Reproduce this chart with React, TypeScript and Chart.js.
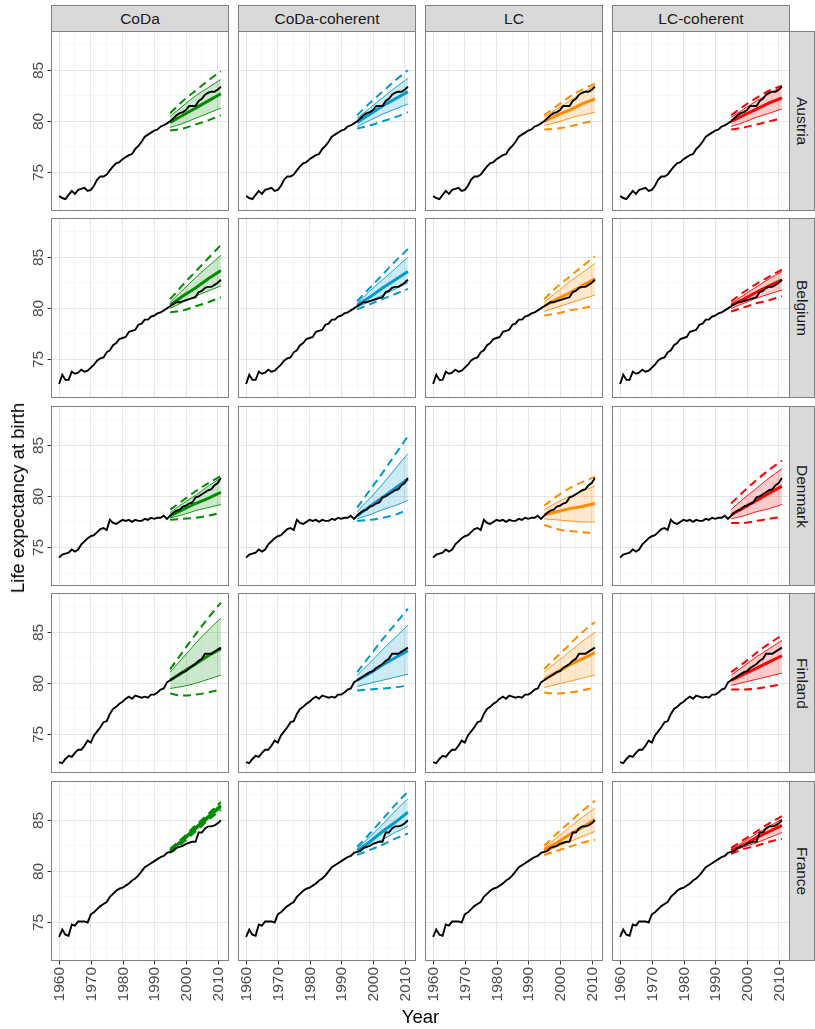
import { useEffect, useRef } from 'react'
import { Chart, registerables, type Plugin } from 'chart.js'

Chart.register(...registerables)

// facets
const countries = ['Austria', 'Belgium', 'Denmark', 'Finland', 'France']
const methods = ['CoDa', 'CoDa-coherent', 'LC', 'LC-coherent']
const methodColors = ['#008B00', '#009ACD', '#FF8C00', '#FF0000']
const methodFills = ['rgba(0,139,0,0.2)', 'rgba(0,154,205,0.2)', 'rgba(255,140,0,0.2)', 'rgba(255,0,0,0.2)']

// axes
const xLabels = [1960, 1970, 1980, 1990, 2000, 2010]
const xGrid = [1960, 1965, 1970, 1975, 1980, 1985, 1990, 1995, 2000, 2005, 2010]
const yLabels = [75, 80, 85]
const yGrid = [72.5, 75, 77.5, 80, 82.5, 85, 87.5]

// observed female life expectancy, 1960..2011
const firstYear = 1960
const austria = [72.7, 72.5, 72.4, 72.8, 73.2, 72.9, 73.3, 73.4, 73.5, 73.2,
  73.3, 73.7, 74.3, 74.6, 74.6, 74.8, 75.2, 75.6, 75.9, 76.0,
  76.3, 76.5, 76.7, 76.8, 77.3, 77.6, 78.0, 78.5, 78.7, 78.9,
  79.1, 79.2, 79.5, 79.6, 79.8, 80.0, 80.3, 80.6, 80.8, 80.9,
  81.1, 81.5, 81.5, 81.5, 82.0, 82.2, 82.6, 82.8, 82.9, 82.9,
  83.1, 83.4]
const belgium = [72.6, 73.5, 73.0, 73.0, 73.8, 73.6, 73.7, 74.0, 73.8, 73.9,
  74.2, 74.5, 74.9, 75.1, 75.2, 75.7, 75.9, 76.4, 76.6, 77.0,
  77.1, 77.2, 77.7, 77.8, 77.9, 78.4, 78.5, 78.9, 78.9, 79.2,
  79.3, 79.5, 79.6, 79.8, 80.0, 80.2, 80.4, 80.6, 80.6, 80.7,
  80.8, 80.9, 81.0, 81.1, 81.6, 81.7, 82.0, 82.1, 82.1, 82.3,
  82.5, 82.8]
const denmark = [74.0, 74.3, 74.4, 74.5, 74.8, 74.6, 74.8, 75.3, 75.6, 75.9,
  76.1, 76.2, 76.5, 76.8, 76.9, 76.7, 77.7, 77.4, 77.3, 77.5,
  77.7, 77.6, 77.7, 77.5, 77.7, 77.6, 77.6, 77.8, 77.7, 77.9,
  77.8, 77.9, 77.9, 78.1, 77.8, 78.1, 78.4, 78.6, 78.7, 79.0,
  79.1, 79.3, 79.4, 79.9, 80.0, 80.2, 80.4, 80.6, 80.7, 81.1,
  81.3, 81.8]
const finland = [72.3, 72.2, 72.6, 72.9, 72.8, 73.2, 73.5, 73.5, 73.9, 74.4,
  74.2, 74.9, 75.3, 75.7, 76.2, 76.3, 77.0, 77.5, 77.7, 78.0,
  78.2, 78.5, 78.7, 78.5, 78.8, 78.7, 78.6, 78.7, 78.6, 78.9,
  78.9, 79.1, 79.4, 79.5, 80.1, 80.3, 80.5, 80.7, 80.9, 81.1,
  81.2, 81.5, 81.7, 81.9, 82.2, 82.4, 82.9, 82.9, 82.9, 83.1,
  83.3, 83.5]
const france = [73.6, 74.3, 73.8, 73.7, 74.8, 74.7, 75.1, 75.1, 75.1, 75.0,
  75.8, 76.0, 76.3, 76.6, 76.8, 77.0, 77.5, 77.8, 78.1, 78.3,
  78.4, 78.6, 78.8, 79.1, 79.3, 79.6, 80.0, 80.4, 80.6, 80.8,
  81.0, 81.2, 81.4, 81.5, 81.8, 81.9, 82.0, 82.3, 82.4, 82.5,
  82.7, 82.8, 82.9, 82.9, 83.8, 83.8, 84.2, 84.4, 84.4, 84.5,
  84.7, 85.0]
const observed = [austria, belgium, denmark, finland, france]

// forecasts (rows: Austria, Belgium, Denmark, Finland, France)
const fcYears = [1995, 1999, 2003, 2007, 2011]

const codaMean = [[79.9, 80.6, 81.3, 82.0, 82.7], [80.3, 81.2, 82.0, 82.9, 83.7], [78.1, 78.7, 79.3, 79.8, 80.4], [80.3, 81.1, 81.9, 82.7, 83.4], [82.0, 83.1, 84.2, 85.3, 86.4]]
const codaLo80 = [[79.4, 79.8, 80.3, 80.8, 81.3], [80.0, 80.6, 81.2, 81.7, 82.2], [77.9, 78.2, 78.6, 78.9, 79.2], [79.5, 79.7, 80.0, 80.4, 80.8], [81.9, 82.9, 84.0, 85.1, 86.2]]
const codaHi80 = [[80.5, 81.5, 82.5, 83.3, 84.1], [80.6, 81.8, 83.0, 84.1, 85.2], [78.4, 79.3, 80.1, 81.0, 81.8], [81.1, 82.5, 83.9, 85.2, 86.4], [82.1, 83.2, 84.4, 85.5, 86.6]]
const codaLo95 = [[79.1, 79.3, 79.7, 80.1, 80.6], [79.6, 79.8, 80.2, 80.6, 81.1], [77.7, 77.8, 77.9, 78.1, 78.4], [79.0, 78.8, 78.9, 79.1, 79.4], [81.8, 82.8, 83.9, 85.0, 86.0]]
const codaHi95 = [[80.8, 82.0, 83.0, 84.0, 84.9], [80.9, 82.3, 83.6, 84.9, 86.2], [78.7, 79.6, 80.5, 81.3, 82.0], [81.4, 83.1, 84.8, 86.4, 87.9], [82.2, 83.3, 84.5, 85.6, 86.8]]

const codaCohMean = [[79.9, 80.7, 81.5, 82.2, 82.9], [80.3, 81.1, 82.0, 82.8, 83.6], [78.1, 79.0, 79.9, 80.8, 81.7], [80.3, 81.0, 81.8, 82.5, 83.2], [82.0, 82.9, 83.9, 84.8, 85.8]]
const codaCohLo80 = [[79.5, 80.1, 80.7, 81.2, 81.7], [80.1, 80.7, 81.3, 81.9, 82.5], [77.8, 78.2, 78.7, 79.1, 79.6], [79.7, 80.0, 80.3, 80.6, 80.9], [81.8, 82.5, 83.1, 83.8, 84.4]]
const codaCohHi80 = [[80.3, 81.3, 82.3, 83.3, 84.2], [80.5, 81.7, 82.8, 83.9, 85.0], [78.5, 79.8, 81.2, 82.7, 84.2], [80.8, 82.0, 83.3, 84.5, 85.7], [82.2, 83.4, 84.6, 85.9, 87.1]]
const codaCohLo95 = [[79.3, 79.6, 80.0, 80.4, 80.9], [79.9, 80.4, 80.9, 81.4, 81.9], [77.6, 77.7, 77.9, 78.2, 78.7], [79.3, 79.4, 79.5, 79.6, 79.8], [81.6, 82.1, 82.6, 83.2, 83.7]]
const codaCohHi95 = [[80.6, 81.8, 82.9, 84.0, 85.0], [80.7, 82.0, 83.3, 84.6, 85.8], [78.9, 80.6, 82.3, 84.1, 85.9], [81.1, 82.7, 84.3, 85.8, 87.3], [82.4, 83.7, 85.1, 86.5, 87.8]]

const lcMean = [[80.0, 80.6, 81.1, 81.7, 82.2], [80.2, 80.9, 81.5, 82.2, 82.9], [78.2, 78.5, 78.8, 79.0, 79.3], [80.4, 81.1, 81.8, 82.4, 83.0], [82.1, 82.8, 83.6, 84.3, 85.1]]
const lcLo80 = [[79.6, 79.9, 80.3, 80.6, 80.9], [79.7, 80.1, 80.5, 80.9, 81.3], [77.8, 77.7, 77.6, 77.5, 77.5], [79.6, 79.9, 80.2, 80.5, 80.8], [81.8, 82.4, 82.9, 83.4, 83.9]]
const lcHi80 = [[80.4, 81.2, 82.0, 82.8, 83.5], [80.6, 81.6, 82.6, 83.5, 84.4], [78.7, 79.4, 80.0, 80.5, 81.0], [81.1, 82.1, 83.1, 84.1, 85.0], [82.3, 83.3, 84.3, 85.3, 86.2]]
const lcLo95 = [[79.2, 79.3, 79.5, 79.8, 80.1], [79.3, 79.5, 79.8, 80.0, 80.3], [77.2, 76.8, 76.6, 76.5, 76.4], [79.1, 79.0, 79.1, 79.3, 79.6], [81.6, 82.0, 82.4, 82.8, 83.1]]
const lcHi95 = [[80.6, 81.5, 82.4, 83.1, 83.7], [80.9, 82.1, 83.1, 84.1, 85.1], [79.1, 80.0, 80.8, 81.4, 81.9], [81.4, 82.6, 83.8, 85.0, 86.0], [82.5, 83.7, 84.8, 85.9, 86.9]]

const lcCohMean = [[80.0, 80.6, 81.2, 81.8, 82.3], [80.3, 80.9, 81.6, 82.2, 82.8], [78.2, 78.9, 79.6, 80.3, 81.0], [80.3, 80.9, 81.5, 82.1, 82.7], [82.0, 82.6, 83.3, 83.9, 84.5]]
const lcCohLo80 = [[79.5, 79.9, 80.4, 80.8, 81.2], [80.0, 80.5, 81.0, 81.4, 81.8], [77.8, 78.1, 78.5, 78.8, 79.2], [79.8, 80.1, 80.4, 80.7, 81.0], [81.9, 82.4, 82.8, 83.3, 83.8]]
const lcCohHi80 = [[80.4, 81.2, 82.0, 82.7, 83.4], [80.5, 81.3, 82.1, 82.9, 83.6], [78.7, 79.8, 80.8, 81.8, 82.7], [80.8, 81.7, 82.6, 83.4, 84.2], [82.2, 82.9, 83.7, 84.4, 85.1]]
const lcCohLo95 = [[79.2, 79.4, 79.7, 80.0, 80.3], [79.7, 80.1, 80.5, 80.8, 81.2], [77.4, 77.4, 77.6, 77.8, 78.0], [79.4, 79.4, 79.5, 79.7, 79.9], [81.7, 82.2, 82.5, 82.9, 83.2]]
const lcCohHi95 = [[80.6, 81.5, 82.3, 83.0, 83.5], [80.7, 81.6, 82.4, 83.1, 83.8], [79.3, 80.5, 81.6, 82.6, 83.5], [81.1, 82.0, 83.0, 83.9, 84.7], [82.3, 83.1, 83.9, 84.7, 85.4]]

const forecasts = [
  { mean: codaMean, lo80: codaLo80, hi80: codaHi80, lo95: codaLo95, hi95: codaHi95 },
  { mean: codaCohMean, lo80: codaCohLo80, hi80: codaCohHi80, lo95: codaCohLo95, hi95: codaCohHi95 },
  { mean: lcMean, lo80: lcLo80, hi80: lcHi80, lo95: lcLo95, hi95: lcHi95 },
  { mean: lcCohMean, lo80: lcCohLo80, hi80: lcCohHi80, lo95: lcCohLo95, hi95: lcCohHi95 },
]

// layout
const COL_X = [51, 238, 425, 612]
const ROW_Y = [31, 218, 406, 593, 781]
const PW = 178
const PH = 180
const PAD_L = 40
const PAD_B = 48
const X_MIN = 1957.45
const X_MAX = 2013.55
const Y_MIN = 71.23
const Y_MAX = 88.84
const FONT = '"Liberation Sans", Arial, Helvetica, sans-serif'

const facetFrame: Plugin = {
  id: 'facetFrame',
  afterDraw(chart, _args, opts: any) {
    const { ctx, chartArea: a, scales } = chart
    ctx.save()
    ctx.strokeStyle = '#7f7f7f'
    ctx.lineWidth = 1
    ctx.strokeRect(a.left + 0.5, a.top + 0.5, a.right - a.left - 1, a.bottom - a.top - 1)
    ctx.fillStyle = '#4d4d4d'
    ctx.strokeStyle = '#333333'
    ctx.font = `15.5px ${FONT}`
    if (opts.left) {
      for (const v of yLabels) {
        const py = Math.round(scales.y.getPixelForValue(v)) + 0.5
        ctx.beginPath(); ctx.moveTo(a.left - 3.5, py); ctx.lineTo(a.left, py); ctx.stroke()
        ctx.save()
        ctx.translate(a.left - 5, py)
        ctx.rotate(-Math.PI / 2)
        ctx.textAlign = 'center'
        ctx.textBaseline = 'bottom'
        ctx.fillText(String(v), 0, 0)
        ctx.restore()
      }
    }
    if (opts.bottom) {
      for (const v of xLabels) {
        const px = Math.round(scales.x.getPixelForValue(v)) + 0.5
        ctx.beginPath(); ctx.moveTo(px, a.bottom); ctx.lineTo(px, a.bottom + 3.5); ctx.stroke()
        ctx.save()
        ctx.translate(px, a.bottom + 6)
        ctx.rotate(-Math.PI / 2)
        ctx.textAlign = 'right'
        ctx.textBaseline = 'middle'
        ctx.fillText(String(v), 0, 0)
        ctx.restore()
      }
    }
    ctx.restore()
  },
}

function Panel({ row, col }: { row: number; col: number }) {
  const ref = useRef<HTMLCanvasElement>(null)
  const left = col === 0
  const bottom = row === countries.length - 1
  const w = PW + (left ? PAD_L : 0)
  const h = PH + (bottom ? PAD_B : 0)

  useEffect(() => {
    if (!ref.current) return
    const color = methodColors[col]
    const f = forecasts[col]
    const fc = (arr: number[][]) => fcYears.map((x, i) => ({ x, y: arr[row][i] }))
    const obs = observed[row].map((y, i) => ({ x: firstYear + i, y }))
    const band = { borderColor: color, borderWidth: 0.9, cubicInterpolationMode: 'monotone' as const }
    const dashed = { borderColor: color, borderWidth: 2, borderDash: [8, 5], cubicInterpolationMode: 'monotone' as const }

    const chart = new Chart(ref.current, {
      type: 'line',
      data: {
        datasets: [
          { data: obs, borderColor: '#000', borderWidth: 1.9 },
          { data: fc(f.mean), borderColor: color, borderWidth: 3 },
          { data: fc(f.hi95), ...dashed },
          { data: fc(f.lo95), ...dashed },
          { data: fc(f.hi80), ...band, backgroundColor: methodFills[col], fill: '+1' },
          { data: fc(f.lo80), ...band },
        ],
      },
      options: {
        responsive: false,
        animation: false,
        layout: { padding: { left: left ? PAD_L : 0, bottom: bottom ? PAD_B : 0, top: 0, right: 0 } },
        elements: { point: { radius: 0 }, line: { tension: 0 } },
        plugins: {
          legend: { display: false },
          tooltip: { enabled: false },
          facetFrame: { left, bottom },
        } as any,
        scales: {
          x: {
            type: 'linear', min: X_MIN, max: X_MAX,
            border: { display: false },
            ticks: { display: false },
            grid: {
              drawTicks: false,
              color: c => (c.tick && c.tick.value % 10 === 0 ? '#E5E5E5' : '#F2F2F2'),
              lineWidth: c => (c.tick && c.tick.value % 10 === 0 ? 1 : 0.6),
            },
            afterBuildTicks: s => { s.ticks = xGrid.map(value => ({ value })) },
          },
          y: {
            type: 'linear', min: Y_MIN, max: Y_MAX,
            border: { display: false },
            ticks: { display: false },
            grid: {
              drawTicks: false,
              color: c => (c.tick && c.tick.value % 5 === 0 ? '#E5E5E5' : '#F2F2F2'),
              lineWidth: c => (c.tick && c.tick.value % 5 === 0 ? 1 : 0.6),
            },
            afterBuildTicks: s => { s.ticks = yGrid.map(value => ({ value })) },
          },
        },
      },
      plugins: [facetFrame],
    })
    return () => chart.destroy()
  }, [row, col])

  return (
    <canvas
      ref={ref}
      width={w}
      height={h}
      style={{ position: 'absolute', left: COL_X[col] - (left ? PAD_L : 0), top: ROW_Y[row], width: w, height: h }}
    />
  )
}

const stripStyle = {
  position: 'absolute' as const,
  boxSizing: 'border-box' as const,
  background: '#D9D9D9',
  border: '1px solid #7f7f7f',
  color: '#1A1A1A',
  fontSize: '15.5px',
  display: 'flex',
  alignItems: 'center',
  justifyContent: 'center',
}

export default function App() {
  return (
    <div style={{ position: 'fixed', left: 0, top: 0, width: 815, height: 1029, background: '#fff', fontFamily: FONT }}>
      {methods.map((m, c) => (
        <div key={m} style={{ ...stripStyle, left: COL_X[c], top: 5, width: PW, height: 27 }}>{m}</div>
      ))}
      {countries.map((name, r) => (
        <div key={name} style={{ ...stripStyle, left: 789, top: ROW_Y[r], width: 26, height: PH }}>
          <span style={{ writingMode: 'vertical-rl' }}>{name}</span>
        </div>
      ))}
      {countries.map((name, r) => methods.map((m, c) => <Panel key={name + m} row={r} col={c} />))}
      <div style={{ position: 'absolute', left: 0, width: 815, top: 1006, textAlign: 'center', paddingLeft: 26, boxSizing: 'border-box', fontSize: 18.5, color: '#000' }}>
        Year
      </div>
      <div style={{ position: 'absolute', left: 18, top: 498, transform: 'translate(-50%, -50%) rotate(-90deg)', whiteSpace: 'nowrap', fontSize: 18.5, color: '#000' }}>
        Life expectancy at birth
      </div>
    </div>
  )
}
